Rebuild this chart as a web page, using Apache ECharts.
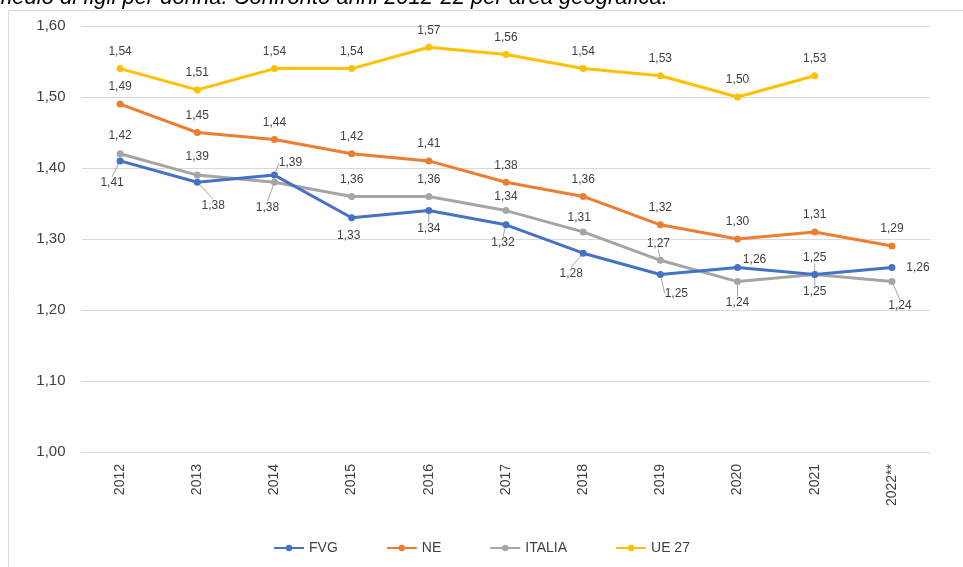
<!DOCTYPE html>
<html>
<head>
<meta charset="utf-8">
<script src="https://cdn.jsdelivr.net/npm/echarts@6/dist/echarts.min.js"></script>
<style>
html,body{margin:0;padding:0;background:#fff;}
#chart{width:963px;height:567px;}
</style>
</head>
<body>
<div id="chart"></div>
<script>
var categories = ['2012','2013','2014','2015','2016','2017','2018','2019','2020','2021','2022**'];
var fvg    = [1.41, 1.38, 1.39, 1.33, 1.34, 1.32, 1.28, 1.25, 1.26, 1.25, 1.26];
var ne     = [1.49, 1.45, 1.44, 1.42, 1.41, 1.38, 1.36, 1.32, 1.30, 1.31, 1.29];
var italia = [1.42, 1.39, 1.38, 1.36, 1.36, 1.34, 1.31, 1.27, 1.24, 1.25, 1.24];
var ue27   = [1.54, 1.51, 1.54, 1.54, 1.57, 1.56, 1.54, 1.53, 1.50, 1.53, null];
var yTicks = [1.0, 1.1, 1.2, 1.3, 1.4, 1.5, 1.6];

// label placement (offset of label centre from the point), and whether a leader line is drawn
var labelOffsets = {
  0: [[-8,22,1],[16,23,1],[16,-12,1],[-3,18,0],[0,18,1],[-3,18,1],[-12,20,1],[16,19,1],[17,-8,0],[0,-17,1],[26,0,0]],
  1: null,
  2: [[0,-18,0],[0,-18,0],[-7,25,1],[0,-17,0],[0,-17,0],[0,-14,0],[-4,-14,0],[-2,-17,1],[0,21,1],[0,17,1],[8,24,1]],
  3: null
};
var defaultOffset = [0,-17,0];

var colors = ['#4472C4','#ED7D31','#A5A5A5','#FFC000'];
var names = ['FVG','NE','ITALIA','UE 27'];
var seriesData = [fvg, ne, italia, ue27];

function fmt(v){ return v.toFixed(2).replace('.', ','); }

var chart = echarts.init(document.getElementById('chart'));
var series = seriesData.map(function(d, si){
  return {
    name: names[si],
    type: 'line',
    data: d.map(function(v, i){
      var off = labelOffsets[si] ? labelOffsets[si][i] : defaultOffset;
      return { value: v, labelLine: { show: !!off[2] } };
    }),
    symbol: 'circle',
    symbolSize: 7,
    lineStyle: { width: 3, color: colors[si] },
    itemStyle: { color: colors[si] },
    color: colors[si],
    z: 10 - si,
    label: {
      show: true,
      position: 'inside',
      formatter: function(p){ return fmt(p.value); },
      fontFamily: 'Liberation Sans',
      fontSize: 12,
      color: '#404040'
    },
    labelLine: { show: false, lineStyle: { color: '#A6A6A6', width: 1 } },
    labelLayout: function(params){
      var off = labelOffsets[params.seriesIndex] ? labelOffsets[params.seriesIndex][params.dataIndex] : defaultOffset;
      return { dx: off[0], dy: off[1] };
    }
  };
});

chart.setOption({
  animation: false,
  color: colors,
  graphic: [
    { type: 'rect', shape: { x: 8.5, y: 10.5, width: 1000, height: 700 },
      style: { fill: 'none', stroke: '#D9D9D9', lineWidth: 1 }, z: -1 },
    { type: 'text', left: -6, top: -13,
      style: { text: 'medio di figli per donna. Confronto anni 2012-22 per area geografica.',
        font: 'italic 22px "Liberation Sans"', fill: '#000' } }
  ],
  grid: { left: 81.5, right: 32.5, top: 26, bottom: 115 },
  legend: {
    bottom: 7,
    left: 'center',
    itemGap: 48,
    itemWidth: 30,
    itemHeight: 8,
    textStyle: { fontFamily: 'Liberation Sans', fontSize: 14, color: '#404040' },
    data: names
  },
  xAxis: {
    type: 'category',
    data: categories,
    boundaryGap: true,
    axisLine: { show: true, lineStyle: { color: '#D9D9D9' } },
    axisTick: { show: false },
    axisLabel: { rotate: 90, margin: 12, fontFamily: 'Liberation Sans', fontSize: 14, color: '#404040' }
  },
  yAxis: {
    type: 'value',
    min: yTicks[0],
    max: yTicks[yTicks.length - 1],
    interval: 0.1,
    axisLine: { show: false },
    axisTick: { show: false },
    splitLine: { lineStyle: { color: '#D9D9D9', width: 1 } },
    axisLabel: { margin: 16, fontFamily: 'Liberation Sans', fontSize: 15, color: '#404040',
      formatter: function(v){ return fmt(v); } }
  },
  series: series
});
</script>
</body>
</html>
